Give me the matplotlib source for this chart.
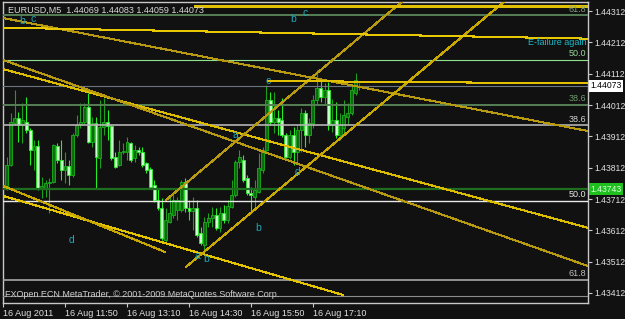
import numpy as np
import matplotlib.pyplot as plt
import matplotlib.transforms as mtrans

plt.rcParams['font.family'] = ['Liberation Sans', 'DejaVu Sans']

# EURUSD M5, 16 Aug 2011, first bar 10:30
opens = [1.43747, 1.43750, 1.43821, 1.43955, 1.43971, 1.43948, 1.43958, 1.43932, 1.43868, 1.43881,
         1.43747, 1.43747, 1.43763, 1.43766, 1.43881, 1.43837, 1.43805, 1.43817, 1.43789, 1.43916,
         1.43951, 1.43958, 1.44006, 1.43894, 1.43955, 1.43843, 1.43942, 1.43958, 1.43945, 1.43846,
         1.43821, 1.43862, 1.43862, 1.43891, 1.43843, 1.43869, 1.43862, 1.43827, 1.43808, 1.43757,
         1.43709, 1.43684, 1.43581, 1.43639, 1.43661, 1.43677, 1.43677, 1.43766, 1.43684, 1.43674,
         1.43684, 1.43604, 1.43566, 1.43639, 1.43652, 1.43661, 1.43620, 1.43668, 1.43645, 1.43687,
         1.43725, 1.43830, 1.43837, 1.43779, 1.43731, 1.43719, 1.43735, 1.43805, 1.43869, 1.44028,
         1.43958, 1.43971, 1.43964, 1.43916, 1.43846, 1.43916, 1.43862, 1.43932, 1.43987, 1.43916,
         1.43955, 1.44028, 1.44066, 1.44038, 1.44060, 1.43948, 1.43964, 1.43916, 1.43939, 1.43974,
         1.43987, 1.44050, 1.44069]
highs = [1.43786, 1.43846, 1.43987, 1.44060, 1.43990, 1.44018, 1.44038, 1.43939, 1.43900, 1.43900,
         1.43782, 1.43773, 1.43779, 1.43888, 1.43891, 1.43900, 1.43862, 1.43837, 1.43923, 1.43980,
         1.44018, 1.44018, 1.44050, 1.43974, 1.43974, 1.44028, 1.44034, 1.43996, 1.43951, 1.43862,
         1.43900, 1.43891, 1.43910, 1.43894, 1.43885, 1.43878, 1.43878, 1.43830, 1.43814, 1.43773,
         1.43747, 1.43715, 1.43684, 1.43725, 1.43735, 1.43719, 1.43773, 1.43779, 1.43709, 1.43719,
         1.43709, 1.43623, 1.43655, 1.43668, 1.43687, 1.43684, 1.43687, 1.43693, 1.43709, 1.43773,
         1.43837, 1.43869, 1.43853, 1.43789, 1.43750, 1.43773, 1.43859, 1.43878, 1.44076, 1.44054,
         1.44054, 1.43996, 1.44034, 1.43923, 1.43932, 1.43942, 1.43948, 1.44003, 1.43996, 1.43971,
         1.44044, 1.44124, 1.44092, 1.44082, 1.44085, 1.44031, 1.44022, 1.43987, 1.44028, 1.44018,
         1.44076, 1.44114, 1.44083]
lows = [1.43661, 1.43741, 1.43817, 1.43948, 1.43894, 1.43891, 1.43923, 1.43821, 1.43805, 1.43741,
        1.43715, 1.43719, 1.43668, 1.43763, 1.43827, 1.43773, 1.43763, 1.43757, 1.43782, 1.43910,
        1.43939, 1.43948, 1.43891, 1.43878, 1.43747, 1.43811, 1.43916, 1.43900, 1.43837, 1.43811,
        1.43817, 1.43856, 1.43837, 1.43830, 1.43830, 1.43853, 1.43814, 1.43795, 1.43747, 1.43703,
        1.43677, 1.43581, 1.43575, 1.43636, 1.43652, 1.43645, 1.43671, 1.43671, 1.43645, 1.43613,
        1.43591, 1.43566, 1.43540, 1.43623, 1.43623, 1.43613, 1.43607, 1.43636, 1.43636, 1.43684,
        1.43719, 1.43811, 1.43766, 1.43725, 1.43668, 1.43684, 1.43731, 1.43795, 1.43859, 1.43948,
        1.43923, 1.43916, 1.43910, 1.43843, 1.43840, 1.43821, 1.43830, 1.43862, 1.43878, 1.43891,
        1.43939, 1.44012, 1.44022, 1.44015, 1.43932, 1.43926, 1.43907, 1.43900, 1.43923, 1.43948,
        1.43980, 1.44044, 1.44059]
closes = [1.43757, 1.43821, 1.43958, 1.43971, 1.43948, 1.43964, 1.43932, 1.43868, 1.43881, 1.43747,
          1.43754, 1.43763, 1.43766, 1.43885, 1.43837, 1.43805, 1.43817, 1.43789, 1.43916, 1.43948,
          1.43958, 1.44006, 1.43894, 1.43955, 1.43846, 1.43942, 1.43958, 1.43945, 1.43843, 1.43814,
          1.43862, 1.43865, 1.43894, 1.43837, 1.43869, 1.43862, 1.43821, 1.43805, 1.43750, 1.43709,
          1.43684, 1.43588, 1.43645, 1.43668, 1.43709, 1.43709, 1.43766, 1.43684, 1.43674, 1.43684,
          1.43597, 1.43572, 1.43639, 1.43652, 1.43661, 1.43620, 1.43668, 1.43645, 1.43690, 1.43725,
          1.43830, 1.43846, 1.43773, 1.43731, 1.43725, 1.43741, 1.43811, 1.43869, 1.44028, 1.43958,
          1.43971, 1.43958, 1.43916, 1.43846, 1.43916, 1.43862, 1.43932, 1.43987, 1.43916, 1.43955,
          1.44028, 1.44066, 1.44038, 1.44060, 1.43948, 1.43964, 1.43916, 1.43948, 1.43980, 1.43987,
          1.44060, 1.44092, 1.44073]

time_ticks = [0, 16, 32, 48, 64, 80]
time_labels = ['16 Aug 2011', '16 Aug 11:50', '16 Aug 13:10', '16 Aug 14:30', '16 Aug 15:50', '16 Aug 17:10']
price_ticks = [1.44312, 1.44212, 1.44112, 1.44012, 1.43912, 1.43812, 1.43712, 1.43612, 1.43512, 1.43412]

# horizontal levels (fibo + price lines)
hl_price = [1.44299, 1.44156, 1.44012, 1.43948, 1.43743, 1.43706, 1.43454, 1.43403, 1.44073]
hl_color = ['#557f55', '#8fe08f', '#557f55', '#b4b4b4', '#1f6e1f', '#e8e8e8', '#a8a8a8', '#8c8c8c', '#6c7482']
hl_width = [1.4, 0.8, 1.4, 1.2, 1.6, 1.0, 1.2, 0.8, 0.8]
fib_text = ['61.8', '50.0', '38.6', '38.6', '', '50.0', '61.8', '', '']
fib_tcol = ['#7fa57f', '#9ad89a', '#6f9f6f', '#d4d4d4', '', '#e8e8e8', '#bdbdbd', '', '']

# trendlines: (bar, price) -> (bar, price)
tl_x0 = [0, 0, 0, 0, 0, 42.1, 47.2, 0, 68.4, 49.5]
tl_p0 = [1.44290, 1.44127, 1.44156, 1.43722, 1.43754, 1.43709, 1.43495, 1.44259, 1.44089, 1.44328]
tl_x1 = [151, 151, 151, 87.7, 41.8, 105, 131.4, 151, 151, 151]
tl_p1 = [1.43929, 1.43620, 1.43498, 1.43406, 1.43543, 1.44363, 1.44363, 1.44224, 1.44081, 1.44328]
tl_col = ['#b89a12', '#dcbc00', '#b89a12', '#e4c400', '#c8a800', '#b89a12', '#c8a800', '#e8c800', '#e0c000', '#e0c000']

# wave labels
wave_txt = ['b', 'c', 'b', 'c', 'c', 'a', 'd', 'b', 'a', 'b', 'd']
wave_x = [4.9, 7.7, 74.8, 77.9, 68.4, 59.9, 75.9, 65.8, 50.1, 52.4, 17.8]
wave_p = [1.44280, 1.44286, 1.44286, 1.44306, 1.44089, 1.43916, 1.43798, 1.43620, 1.43530, 1.43521, 1.43581]

bg = '#101110'
fig = plt.figure(figsize=(6.25, 3.19), dpi=100, facecolor=bg)
ax = fig.add_axes([3/625, 16/319, 585/625, 301/319], facecolor=bg)

o = np.array(opens); h = np.array(highs); l = np.array(lows); c = np.array(closes)
idx = np.arange(len(o))
bull = c >= o

ax.vlines(idx[bull], l[bull], h[bull], color='#1aa01a', lw=0.8, zorder=2)
ax.vlines(idx[~bull], l[~bull], h[~bull], color='#22ee22', lw=0.8, zorder=2)
body = np.maximum(np.abs(c - o), 0.00002)
bot = np.minimum(o, c)
ax.bar(idx[bull], body[bull], bottom=bot[bull], width=0.75, facecolor='#0e6a0e',
       edgecolor='#1cb01c', lw=0.6, zorder=2)
ax.bar(idx[~bull], body[~bull], bottom=bot[~bull], width=0.75, facecolor='#c8ffc8',
       edgecolor='#2af02a', lw=0.6, zorder=2)

for p, col, w, t, tc in zip(hl_price, hl_color, hl_width, fib_text, fib_tcol):
    ax.axhline(p, color=col, lw=w, zorder=3)
    if t:
        ax.text(150.5, p + 0.00005, t, color=tc, fontsize=6.5, ha='right', va='bottom', zorder=5)

for x0, p0, x1, p1, col in zip(tl_x0, tl_p0, tl_x1, tl_p1, tl_col):
    ax.plot([x0, x1], [p0, p1], color=col, lw=0.75, antialiased=False, zorder=4)

for t, x, p in zip(wave_txt, wave_x, wave_p):
    ax.text(x, p, t, color='#1fa8b8', fontsize=7.5, ha='center', va='center', zorder=6)

ax.text(150.5, 1.44212, 'E-failure again', color='#1fb8c8', fontsize=6.5, ha='right', va='center', zorder=6)

ax.text(1.2, 1.44314, 'EURUSD,M5  1.44069 1.44083 1.44059 1.44073', color='#d8d8d8',
        fontsize=6.5, ha='left', va='center', zorder=7)
ax.text(0.5, 1.43408, 'FXOpen ECN MetaTrader, \u00a9 2001-2009 MetaQuotes Software Corp.', color='#d0d0d0',
        fontsize=6.5, ha='left', va='center', zorder=7)

ax.set_xlim(0, 151)
ax.set_ylim(1.43380, 1.44341)

ax.yaxis.tick_right()
ax.set_yticks(price_ticks)
ax.set_yticklabels([f'{p:.5f}' for p in price_ticks])
ax.tick_params(axis='y', colors='#c8c8c8', labelcolor='#e0e0e0', labelsize=6.2, length=3, pad=1.5)
ax.set_xticks(time_ticks)
ax.set_xticklabels(time_labels)
for lbl in ax.get_xticklabels():
    lbl.set_ha('left')
ax.tick_params(axis='x', colors='#c8c8c8', labelcolor='#e0e0e0', labelsize=6.5, length=3, pad=1)

for s in ax.spines.values():
    s.set_color('#c8c8c8')
    s.set_linewidth(1)

tr = mtrans.blended_transform_factory(ax.transAxes, ax.transData)
ax.text(1.004, 1.44073, '1.44073', transform=tr, fontsize=6.2, color='black', ha='left', va='center',
        bbox=dict(facecolor='white', edgecolor='none', pad=1.2), clip_on=False, zorder=8)
ax.text(1.004, 1.43743, '1.43743', transform=tr, fontsize=6.2, color='#d8ffd8', ha='left', va='center',
        bbox=dict(facecolor='#1fbf1f', edgecolor='none', pad=1.2), clip_on=False, zorder=8)

fig.savefig('out.png', dpi=100, facecolor=bg)
